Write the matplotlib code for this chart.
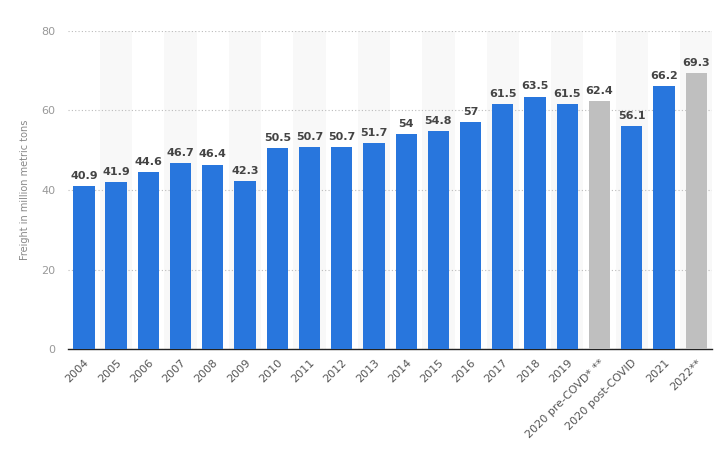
import numpy as np
import matplotlib.pyplot as plt

# data
years = ['2004', '2005', '2006', '2007', '2008', '2009', '2010', '2011', '2012',
         '2013', '2014', '2015', '2016', '2017', '2018', '2019',
         '2020 pre-COVD* **', '2020 post-COVID', '2021', '2022**']
freight = [40.9, 41.9, 44.6, 46.7, 46.4, 42.3, 50.5, 50.7, 50.7,
           51.7, 54, 54.8, 57, 61.5, 63.5, 61.5, 62.4, 56.1, 66.2, 69.3]
value_labels = ['40.9', '41.9', '44.6', '46.7', '46.4', '42.3', '50.5', '50.7', '50.7',
                '51.7', '54', '54.8', '57', '61.5', '63.5', '61.5', '62.4', '56.1', '66.2', '69.3']
forecast = [False]*16 + [True, False, False, True]

blue = '#2876dd'
grey = '#bfbfbf'

fig = plt.figure(figsize=(7.21, 4.54), dpi=100)
ax = fig.add_axes([0.094, 0.231, 0.894, 0.701])

x = np.arange(len(years))
cols = [grey if f else blue for f in forecast]

# alternating background bands
for i in x:
    if i % 2 == 1:
        ax.axvspan(i - 0.5, i + 0.5, color='#f8f8f8', zorder=0, lw=0)

ax.bar(x, freight, width=0.66, color=cols, zorder=3)

for i, v in enumerate(freight):
    ax.text(i, v + 1.3, value_labels[i], ha='center', va='bottom',
            fontsize=8, fontweight='bold', color='#444444', zorder=4)

ax.set_xlim(-0.5, len(years) - 0.5)
ax.set_ylim(0, 80)
ax.set_yticks([0, 20, 40, 60, 80])
ax.yaxis.grid(True, linestyle=(0, (1, 2)), color='#bbbbbb', lw=0.8, zorder=1)
ax.set_axisbelow(True)

ax.set_xticks(x)
ax.set_xticklabels(years, rotation=45, ha='right', rotation_mode='anchor',
                   fontsize=8, color='#555555')
ax.tick_params(axis='y', labelsize=8, labelcolor='#999999', length=0, pad=9)
ax.tick_params(axis='x', length=0, pad=6)

for s in ['top', 'right', 'left']:
    ax.spines[s].set_visible(False)
ax.spines['bottom'].set_color('#222222')
ax.spines['bottom'].set_linewidth(1)

ax.set_ylabel('Freight in million metric tons', fontsize=7, color='#888888', labelpad=8)

fig.savefig('out.png', dpi=100)
